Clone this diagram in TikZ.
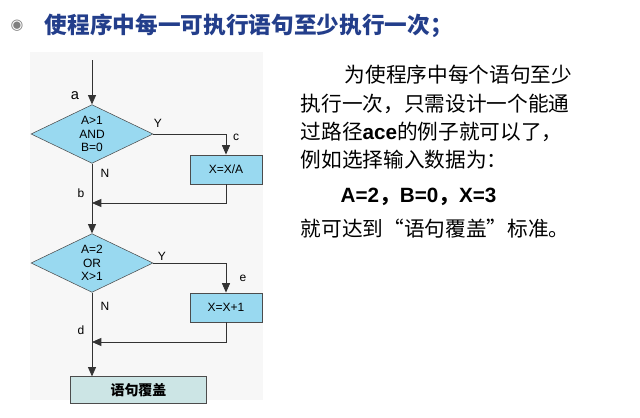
\documentclass[tikz,border=0pt]{standalone}
\usepackage{fontspec}
\setmainfont{Liberation Sans}
\newfontfamily\cjk{Noto Sans CJK SC}
\usetikzlibrary{shapes.geometric,arrows.meta}
\definecolor{fc}{HTML}{99D9F0}
\definecolor{tb}{HTML}{233E8B}
\begin{document}
\begin{tikzpicture}[x=0.75pt,y=-0.75pt,
 dia/.style={diamond,draw=black!70,fill=fc,aspect=2.1,minimum width=91.5pt,minimum height=44pt,inner sep=0pt,align=center,font=\fontsize{9}{10}\selectfont},
 proc/.style={draw=black!70,fill=fc,minimum width=54pt,minimum height=22pt,font=\fontsize{9}{10}\selectfont},
 ln/.style={draw=black!80,line width=0.6pt},
 arr/.style={ln,-{Triangle[length=7pt,width=6pt]}},
 lab/.style={font=\fontsize{9}{9}\selectfont},
 rt/.style={font=\cjk\fontsize{15.5}{18}\selectfont,anchor=west}]
\useasboundingbox (0,0) rectangle (640,418);
\fill[black!3] (30,52) rectangle (263,400);
\node[font=\fontsize{11}{11}\selectfont,text=gray] (bul) at (17,26) {\fontspec{DejaVu Sans}◉};
\node[anchor=west,font=\cjk\bfseries\fontsize{17}{18}\selectfont,text=tb] (title) at (40,26) {使程序中每一可执行语句至少执行一次；};
\coordinate (s) at (92,60);
\node[dia] (d1) at (92,134) {A>1\\AND\\B=0};
\node[proc] (p1) at (226,169.5) {X=X/A};
\coordinate (j1) at (92,203);
\node[dia] (d2) at (92,263) {A=2\\OR\\X>1};
\node[proc] (p2) at (226,307.5) {X=X+1};
\coordinate (j2) at (92,342);
\node[draw=black!70,fill=teal!20,minimum width=102pt,minimum height=20pt,font=\cjk\bfseries\fontsize{10.5}{12}\selectfont] (end) at (138.5,390) {语句覆盖};
\draw[arr] (s) -- (d1.north);
\draw[arr] (d1.east) -| (p1.north);
\draw[ln] (d1.south) -- (j1);
\draw[arr] (p1.south) |- (j1);
\draw[arr] (j1) -- (d2.north);
\draw[arr] (d2.east) -| (p2.north);
\draw[ln] (d2.south) -- (j2);
\draw[arr] (p2.south) |- (j2);
\draw[arr] (j2) -- (j2 |- end.north);
\node[font=\fontsize{11}{11}\selectfont\rmfamily] (la) at (75,96) {a};
\node[lab] (ly1) at (158,123) {Y};
\node[lab] (lc) at (236,137) {c};
\node[lab] (ln1) at (105,173) {N};
\node[lab] (lb) at (81,193) {b};
\node[lab] (ly2) at (162,256) {Y};
\node[lab] (le) at (243,278) {e};
\node[lab] (ln2) at (105,306) {N};
\node[lab] (ld) at (81,330) {d};
\node[rt] (t1) at (340,75) {为使程序中每个语句至少};
\node[rt] (t2) at (296,104) {执行一次，只需设计一个能通};
\node[rt] (t3) at (296,132) {过路径\textbf{\fontspec{Liberation Sans}ace}的例子就可以了，};
\node[rt] (t4) at (296,160) {例如选择输入数据为：};
\node[rt,font=\cjk\bfseries\fontsize{15.5}{18}\selectfont] (t5) at (336,197) {{\fontspec{Liberation Sans}\bfseries A=2}，{\fontspec{Liberation Sans}\bfseries B=0}，{\fontspec{Liberation Sans}\bfseries X=3}};
\node[rt] (t6) at (296,229) {就可达到“语句覆盖”标准。};
\end{tikzpicture}
\end{document}
